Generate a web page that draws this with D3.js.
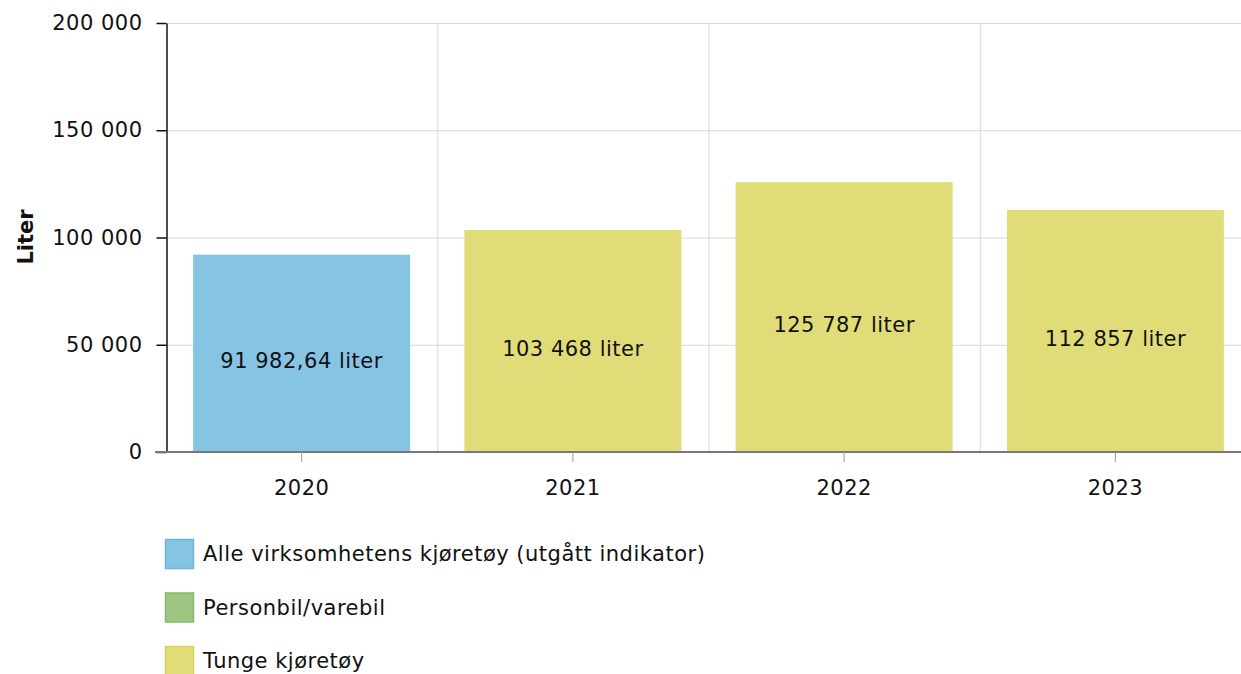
<!DOCTYPE html>
<html><head><meta charset="utf-8">
<script src="https://cdn.jsdelivr.net/npm/d3@7"></script>
<style>body{margin:0;background:#fff;} svg{display:block;font-family:"DejaVu Sans",Verdana,sans-serif;}</style>
</head><body>
<svg id="c" width="1241" height="674"></svg>
<script>
const years = ["2020","2021","2022","2023"];
const seriesNames = ["Alle virksomhetens kjøretøy (utgått indikator)","Personbil/varebil","Tunge kjøretøy"];
const seriesColors = ["#85c4e3","#9dc683","#e0dd78"];
const seriesStroke = ["#6fb3d9","#86b86b","#d6d35f"];
const alleValues = [91982.64, 0, 0, 0];
const personbilValues = [0, 0, 0, 0];
const tungeValues = [0, 103468, 125787, 112857];
const yTicks = [0, 50000, 100000, 150000, 200000];
const yTitle = "Liter";

const loc = d3.formatLocale({decimal:",", thousands:"\u00a0", grouping:[3], currency:["",""]});
const fInt = loc.format(",.0f"), fDec = loc.format(",.2f");
const fmt = v => Number.isInteger(v) ? fInt(v) : fDec(v);

const FS = 21, LS = "0.5px";
const svg = d3.select("#c");
const L=166, R=1241, RB=1251, T=23, B=452;
const xb = d3.scaleBand().domain(years).range([L,RB]);
const x = d3.scaleBand().domain(years).range([L,RB]).paddingInner(0.2).paddingOuter(0.1);
const y = d3.scaleLinear().domain([0,200000]).range([B,T]);

// grid
svg.append("g").selectAll("line").data(yTicks).join("line")
  .attr("x1",L).attr("x2",R).attr("y1",d=>y(d)+0.5).attr("y2",d=>y(d)+0.5)
  .attr("stroke","#d8d8d8").attr("stroke-width",1);
svg.append("g").selectAll("line").data(years.slice(1)).join("line")
  .attr("x1",d=>xb(d)+0.5).attr("x2",d=>xb(d)+0.5).attr("y1",T).attr("y2",B)
  .attr("stroke","#d8d8d8").attr("stroke-width",1);

// stacked data
const rows = years.map((yr,i)=>({year:yr, s0:alleValues[i], s1:personbilValues[i], s2:tungeValues[i]}));
const stack = d3.stack().keys(["s0","s1","s2"])(rows);
svg.append("g").selectAll("g").data(stack).join("g")
  .attr("fill",(d,i)=>seriesColors[i])
  .selectAll("rect").data(d=>d.filter(p=>p[1]-p[0]>0)).join("rect")
  .attr("x",d=>x(d.data.year)).attr("width",x.bandwidth())
  .attr("y",d=>y(d[1])).attr("height",d=>y(d[0])-y(d[1]));

// value labels (totals)
const totals = rows.map(r=>({year:r.year, v:r.s0+r.s1+r.s2}));
svg.append("g").selectAll("text").data(totals).join("text")
  .attr("x",d=>x(d.year)+x.bandwidth()/2)
  .attr("y",d=>(y(d.v)+y(0))/2+8)
  .attr("text-anchor","middle").attr("dominant-baseline","central")
  .attr("font-size",FS).attr("letter-spacing",LS).attr("fill","#111")
  .text(d=>fmt(d.v)+" liter");

// y axis
const ya = svg.append("g").attr("transform",`translate(${L+0.5},0)`)
  .call(d3.axisLeft(y).tickValues(yTicks).tickFormat(d=>fInt(d)).tickSize(10).tickSizeOuter(0));
ya.select(".domain").attr("stroke","#111").attr("stroke-width",1.5);
ya.selectAll(".tick line").attr("stroke","#111").attr("stroke-width",1.5);
ya.selectAll(".tick text").attr("font-size",FS).attr("letter-spacing",LS).attr("fill","#111").attr("font-family","DejaVu Sans, Verdana, sans-serif").attr("dx","-11");

// x axis
const xa = svg.append("g").attr("transform",`translate(0,${B})`)
  .call(d3.axisBottom(xb).tickSize(10).tickSizeOuter(0));
xa.select(".domain").attr("stroke","#777").attr("stroke-width",2).attr("d",`M${L-11},0H${R}`);
xa.selectAll(".tick line").attr("stroke","#999").attr("stroke-width",1);
xa.selectAll(".tick text").attr("font-size",FS).attr("letter-spacing",LS).attr("fill","#111").attr("font-family","DejaVu Sans, Verdana, sans-serif").attr("dy","1.45em");

// y title
svg.append("text").attr("transform","translate(33,237) rotate(-90)")
  .attr("text-anchor","middle").attr("font-size",FS).attr("font-weight","bold").attr("fill","#111").text(yTitle);

// legend
const lg = svg.append("g").selectAll("g").data(seriesNames).join("g")
  .attr("transform",(d,i)=>`translate(165,${539+i*53.5})`);
lg.append("rect").attr("x",0.5).attr("y",0.5).attr("width",28).attr("height",29)
  .attr("fill",(d,i)=>seriesColors[i]).attr("stroke",(d,i)=>seriesStroke[i]).attr("stroke-width",1.5);
lg.append("text").attr("x",38).attr("y",15).attr("dominant-baseline","central")
  .attr("font-size",FS).attr("letter-spacing",LS).attr("fill","#111").text(d=>d);
</script>
</body></html>
